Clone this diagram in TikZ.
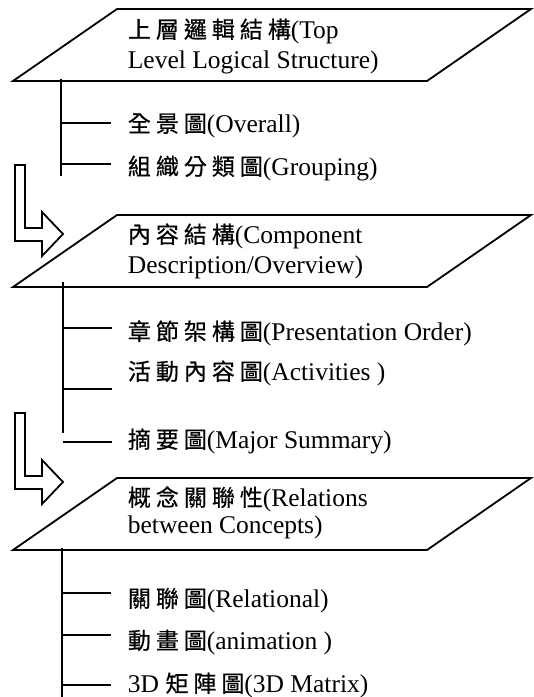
\documentclass[tikz,border=0pt]{standalone}
\usepackage{fontspec}
\setmainfont{Liberation Serif}
\newfontfamily\cjkfont[FakeBold=0.6]{Noto Sans CJK TC}
\def\cjgobble#1{}
\def\cjloop#1#2{#1\ifx\relax#2\expandafter\cjgobble\else\kern5pt\expandafter\cjloop\fi#2}
\newcommand\cj[1]{{\cjkfont\fontsize{23}{26}\selectfont\cjloop#1\relax}}
\begin{document}
\begin{tikzpicture}[x=1pt,y=-1pt,line width=1.8pt,
  lab/.style={anchor=base west,inner sep=0pt,font=\fontsize{25.5}{28}\selectfont},
  plane/.style={draw,line join=miter},
  arrowbox/.style={draw,line join=miter}]
\useasboundingbox (0,0) rectangle (534,697);

% planes
\draw[plane] (117,9) -- (531,9) -- (427,81) -- (13,81) -- cycle;
\draw[plane] (117,215) -- (531,215) -- (427,287) -- (13,287) -- cycle;
\draw[plane] (117,478) -- (531,478) -- (427,550) -- (13,550) -- cycle;

% plane texts
\node[lab] (p1a) at (127,38) {\cj{上層邏輯結構}(Top};
\node[lab] (p1b) at (127,68) {Level Logical Structure)};
\node[lab] (p2a) at (127,243) {\cj{內容結構}(Component};
\node[lab] (p2b) at (127,273) {Description/Overview)};
\node[lab] (p3a) at (127,506) {\cj{概念關聯性}(Relations};
\node[lab] (p3b) at (127,533) {between Concepts)};

% items
\node[lab] (i1) at (127,132) {\cj{全景圖}(Overall)};
\node[lab] (i2) at (127,175) {\cj{組織分類圖}(Grouping)};
\node[lab] (i3) at (127,340) {\cj{章節架構圖}(Presentation Order)};
\node[lab] (i4) at (127,380) {\cj{活動內容圖}(Activities )};
\node[lab] (i5) at (127,448) {\cj{摘要圖}(Major Summary)};
\node[lab] (i6) at (127,607) {\cj{關聯圖}(Relational)};
\node[lab] (i7) at (127,649) {\cj{動畫圖}(animation )};
\node[lab] (i8) at (127,692) {3D \cj{矩陣圖}(3D Matrix)};

% trees
\coordinate (a1) at (61,79);  \coordinate (a2) at (61,176);
\coordinate (b1) at (63,282); \coordinate (b2) at (63,433);
\coordinate (c1) at (62,548); \coordinate (c2) at (62,697);
\draw (a1) -- (a2);
\draw (b1) -- (b2);
\draw (c1) -- (c2);
\foreach \y in {123,164} \draw (61,\y) -- (111,\y);
\foreach \y in {328,389,442} \draw (63,\y) -- (112,\y);
\foreach \y in {593,635,685} \draw (62,\y) -- (111,\y);

% arrows
\draw[arrowbox] (15,165) -- (25,165) -- (25,228) -- (42,228) -- (42,212) -- (63,234) -- (42,256) -- (42,241) -- (15,241) -- cycle;
\draw[arrowbox] (15,413) -- (25,413) -- (25,476) -- (42,476) -- (42,460) -- (63,482) -- (42,504) -- (42,489) -- (15,489) -- cycle;
\end{tikzpicture}
\end{document}
